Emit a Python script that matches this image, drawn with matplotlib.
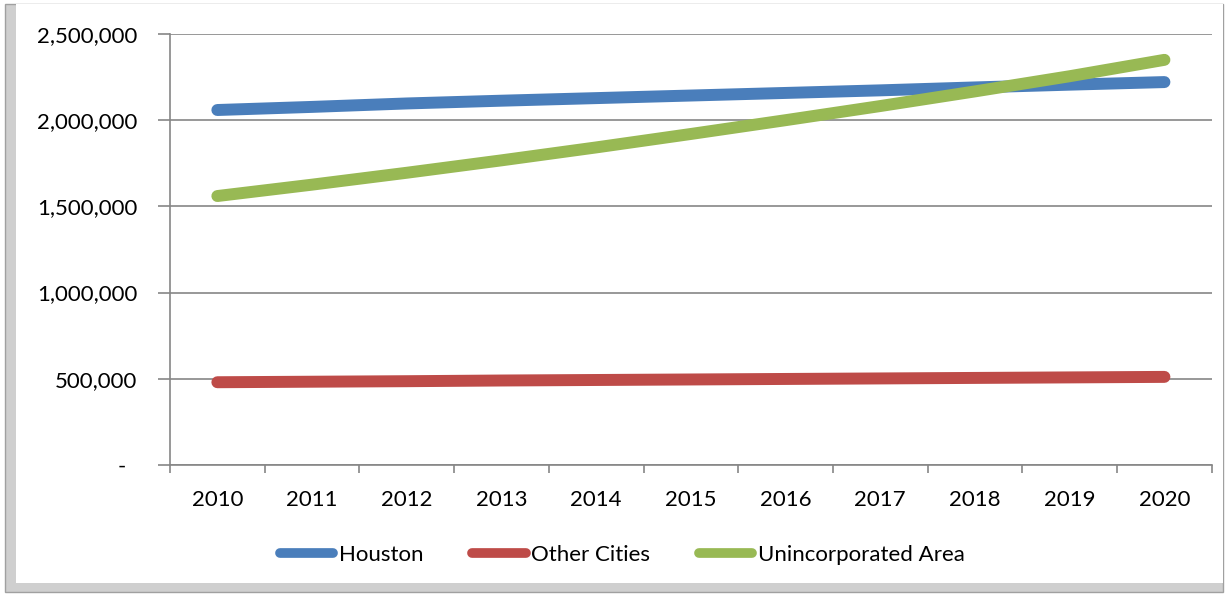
import matplotlib.pyplot as plt
import matplotlib.ticker as mticker
from matplotlib.patches import Rectangle

plt.rcParams['font.family'] = ['Lato', 'DejaVu Sans']

years = [2010, 2011, 2012, 2013, 2014, 2015, 2016, 2017, 2018, 2019, 2020]
houston = [2059000, 2077000, 2097000, 2113000, 2128000, 2143000, 2158000, 2173000, 2190000, 2206000, 2221000]
other_cities = [480000, 483000, 486000, 490000, 493000, 496000, 499000, 502000, 505000, 508000, 511000]
unincorporated = [1560000, 1626000, 1695000, 1767000, 1842000, 1920000, 2000000, 2082000, 2167000, 2255000, 2350000]

series = [("Houston", houston, "#4a7ebb"),
          ("Other Cities", other_cities, "#be4b48"),
          ("Unincorporated Area", unincorporated, "#98b954")]

fig = plt.figure(figsize=(12.3, 5.94), dpi=100)

# outer chart border with a soft shadow on the left and bottom
fig.patches.append(Rectangle((0.004, 0.004), 0.99, 0.99, transform=fig.transFigure,
                             facecolor="#cfcfcf", edgecolor="#a0a0a0", linewidth=1, zorder=-3))
fig.patches.append(Rectangle((0.013, 0.018), 0.981, 0.976, transform=fig.transFigure,
                             facecolor="white", edgecolor="none", zorder=-2))

ax = fig.add_axes([0.1382, 0.2172, 0.847, 0.7256])
x = list(range(len(years)))
for name, vals, color in series:
    ax.plot(x, vals, color=color, linewidth=8.6, solid_capstyle="round", label=name)

ax.set_xlim(-0.5, len(years) - 0.5)
ax.set_ylim(0, 2500000)
ax.set_yticks(range(0, 2500001, 500000))
ax.yaxis.set_major_formatter(mticker.FuncFormatter(lambda v, p: "-  " if v == 0 else f"{int(v):,}"))
ax.set_xticks(x)
ax.set_xticklabels([str(y) for y in years])
ax.set_xticks([i - 0.5 for i in range(len(years) + 1)], minor=True)
ax.tick_params(axis="x", which="major", length=0, pad=18, labelsize=16)
ax.tick_params(axis="x", which="minor", length=6, color="#868686", width=1.2)
ax.tick_params(axis="y", length=8.5, color="#868686", width=1.2, pad=15, labelsize=16)

ax.grid(axis="y", color="#868686", linewidth=1.2)
ax.set_axisbelow(True)
for side in ["top", "right"]:
    ax.spines[side].set_visible(False)
for side in ["left", "bottom"]:
    ax.spines[side].set_color("#868686")
    ax.spines[side].set_linewidth(1.2)

leg = fig.legend(loc="center", bbox_to_anchor=(0.506, 0.066), ncol=3, frameon=False,
                 fontsize=16, handlelength=2.4, handletextpad=0.25, columnspacing=2.2)
for line in leg.get_lines():
    line.set_linewidth(7)
    line.set_solid_capstyle("round")

fig.savefig("out.png", dpi=100)
